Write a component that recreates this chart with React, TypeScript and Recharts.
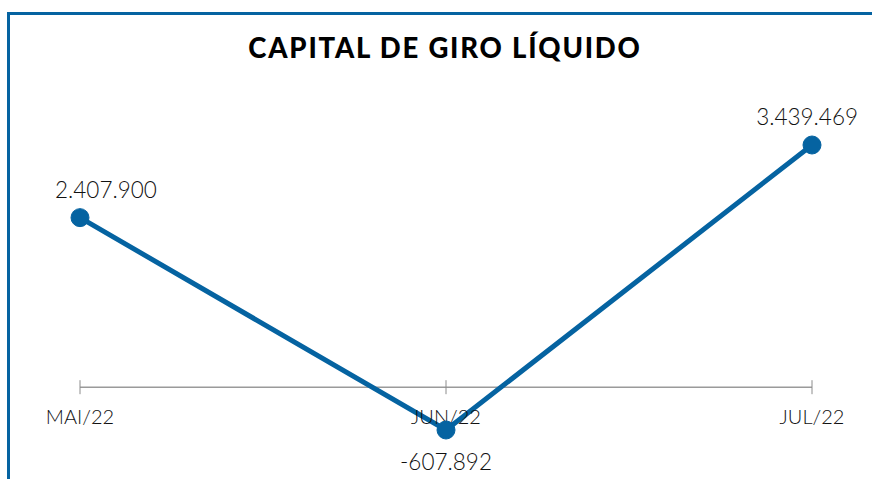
import { LineChart, Line, XAxis, YAxis, ReferenceLine, ReferenceDot, LabelList } from 'recharts'

const months = ['MAI/22', 'JUN/22', 'JUL/22']
const capitalGiro = [2407900, -607892, 3439469]

const BLUE = '#0563a1'
const FONT = 'Lato, "Open Sans", sans-serif'

const chartData = months.map((month, i) => ({ month, value: capitalGiro[i] }))

function formatBR(value: number): string {
    const sign = value < 0 ? '-' : ''
    return sign + Math.abs(value).toString().replace(/\B(?=(\d{3})+(?!\d))/g, '.')
}

// rough text width, used to keep labels inside the chart box
const LABEL_MIN_X = 55
const LABEL_MAX_X = 858
const LABEL_SIZE = 22.5

function ValueLabel(props: any) {
    const { x, y, value } = props
    const text = formatBR(value)
    const w = text.length * LABEL_SIZE * 0.51
    let anchor: 'start' | 'middle' | 'end' = 'middle'
    let tx = x
    if (x - w / 2 < LABEL_MIN_X) { anchor = 'start'; tx = LABEL_MIN_X }
    else if (x + w / 2 > LABEL_MAX_X) { anchor = 'end'; tx = LABEL_MAX_X }
    const ty = value >= 0 ? y - 20 : y + 40
    return (
        <text x={tx} y={ty} textAnchor={anchor} fontSize={LABEL_SIZE} fontFamily={FONT} fontWeight={300} fill="#111">
            {text}
        </text>
    )
}

function CategoryTick(label: string) {
    return (props: any) => {
        const { cx, cy } = props
        return (
            <g>
                <line x1={cx} y1={cy - 7} x2={cx} y2={cy + 7} stroke="#8c8c8c" strokeWidth={1} />
                <text x={cx} y={cy + 37} textAnchor="middle" fontSize={20} fontFamily={FONT} fontWeight={300} fill="#111">
                    {label}
                </text>
            </g>
        )
    }
}

export default function App() {
    return (
        <div style={{ position: 'absolute', left: 0, top: 0, width: 872, height: 479, background: '#fff', overflow: 'hidden' }}>
            <div
                style={{
                    position: 'absolute', left: 7, top: 12, right: 0, bottom: 0,
                    borderLeft: `3px solid ${BLUE}`, borderTop: `3px solid ${BLUE}`,
                }}
            />
            <div
                style={{
                    position: 'absolute', left: 0, width: 890, top: 31, textAlign: 'center',
                    fontFamily: FONT, fontWeight: 900, fontSize: 27.5, color: '#000', letterSpacing: 1.8,
                }}
            >
                CAPITAL DE GIRO LÍQUIDO
            </div>
            <div style={{ position: 'absolute', left: 0, top: 0 }}>
                <LineChart
                    width={872}
                    height={479}
                    data={chartData}
                    margin={{ top: 145, right: 60, bottom: 49, left: 80 }}
                >
                    <XAxis dataKey="month" hide padding={{ left: 0, right: 0 }} />
                    <YAxis hide domain={['dataMin', 'dataMax']} />
                    <ReferenceLine y={0} stroke="#9a9a9a" strokeWidth={1.5} />
                    {months.map((m) => (
                        <ReferenceDot key={m} x={m} y={0} r={0} shape={CategoryTick(m)} />
                    ))}
                    <Line
                        dataKey="value"
                        stroke={BLUE}
                        strokeWidth={5}
                        dot={{ r: 9, fill: BLUE, stroke: BLUE, strokeWidth: 1 }}
                        activeDot={false}
                        isAnimationActive={false}
                    >
                        <LabelList dataKey="value" content={ValueLabel} />
                    </Line>
                </LineChart>
            </div>
        </div>
    )
}
